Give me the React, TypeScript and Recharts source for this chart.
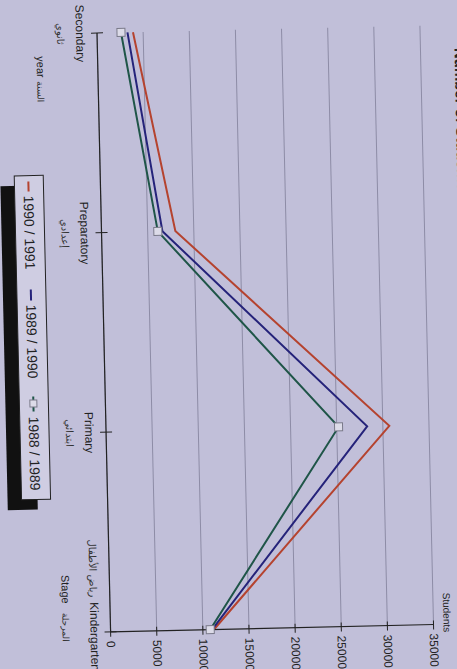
import React from 'react';
import { LineChart, Line, XAxis, YAxis, CartesianGrid } from 'recharts';

const stages = ['Secondary', 'Preparatory', 'Primary', 'Kindergarten'];
const stagesAr = ['ثانوي', 'إعدادي', 'ابتدائي', 'رياض الأطفال'];
const year1988 = [2600, 6100, 25200, 10800];
const year1989 = [3300, 6600, 28300, 11000];
const year1990 = [3900, 8000, 30700, 11200];
const valueTicks = [0, 5000, 10000, 15000, 20000, 25000, 30000, 35000];
const seriesNames = ['1990 / 1991', '1989 / 1990', '1988 / 1989'];
const seriesColors = ['#b5432f', '#25237a', '#1f5548'];

const data = stages.map((s, i) => ({
  stage: s,
  ar: stagesAr[i],
  y1990: year1990[i],
  y1989: year1989[i],
  y1988: year1988[i],
}));

const FONT = '"Liberation Sans", Arial, sans-serif';
const AR_FONT = '"DejaVu Sans", sans-serif';

const CatTick = (props: any) => {
  const { x, y, payload } = props;
  const ar = stagesAr[stages.indexOf(payload.value)];
  const last = payload.value === 'Kindergarten';
  return (
    <g>
      <line x1={x} x2={x} y1={y - 6} y2={y + 6} stroke="#222" strokeWidth={1} />
      {last ? (
        <g>
          <text x={x - 30} y={y + 20} textAnchor="start" fontSize={12} fontFamily={FONT} fill="#222">{payload.value}</text>
          <text x={x - 35} y={y + 20} textAnchor="end" fontSize={10} fontFamily={AR_FONT} fill="#333">{ar}</text>
        </g>
      ) : (
        <g>
          <text x={x} y={y + 21} textAnchor="middle" fontSize={12} fontFamily={FONT} fill="#222">{payload.value}</text>
          <text x={x} y={y + 40} textAnchor="middle" fontSize={10} fontFamily={AR_FONT} fill="#333">{ar}</text>
        </g>
      )}
    </g>
  );
};

const ValTick = (props: any) => {
  const { x, y, payload } = props;
  return (
    <g>
      <line x1={x - 4} x2={x + 5} y1={y} y2={y} stroke="#222" strokeWidth={1} />
      <text x={x + 9} y={y + 4} textAnchor="start" fontSize={12} fontFamily={FONT} fill="#222">{payload.value}</text>
    </g>
  );
};

const SquareDot = (props: any) => {
  const { cx, cy } = props;
  if (cx == null || cy == null) return null;
  return <rect x={cx - 4} y={cy - 4} width={8} height={8} fill="#dcdbe8" stroke="#7a7a8a" strokeWidth={1} />;
};

export default function App() {
  return (
    <div style={{ position: 'fixed', left: 0, top: 0, width: 457, height: 669, overflow: 'hidden', background: '#c1bfd9' }}>
      <div
        style={{
          position: 'absolute',
          left: 0,
          top: 0,
          width: 690,
          height: 460,
          transformOrigin: '0 0',
          transform: 'translate(446.16px, -7.94px) rotate(88.7deg)',
        }}
      >
        <LineChart width={690} height={460} data={data} margin={{ top: 27, right: 0, left: 33, bottom: 80 }}>
          <CartesianGrid horizontal vertical={false} stroke="#8d8ca6" strokeWidth={1} />
          <XAxis
            dataKey="stage"
            height={30}
            interval={0}
            tickSize={0}
            tickMargin={0}
            tickLine={false}
            axisLine={{ stroke: '#222', strokeWidth: 1.2 }}
            tick={<CatTick />}
          />
          <YAxis
            orientation="right"
            width={58}
            domain={[0, 35000]}
            ticks={valueTicks}
            tickSize={0}
            tickMargin={0}
            tickLine={false}
            axisLine={{ stroke: '#222', strokeWidth: 1.2 }}
            tick={<ValTick />}
          />
          <Line type="linear" dataKey="y1990" name={seriesNames[0]} stroke={seriesColors[0]} strokeWidth={2} dot={false} isAnimationActive={false} />
          <Line type="linear" dataKey="y1989" name={seriesNames[1]} stroke={seriesColors[1]} strokeWidth={2} dot={false} isAnimationActive={false} />
          <Line type="linear" dataKey="y1988" name={seriesNames[2]} stroke={seriesColors[2]} strokeWidth={2} dot={<SquareDot />} isAnimationActive={false} />
        </LineChart>
        <svg width={690} height={460} style={{ position: 'absolute', left: 0, top: 0, overflow: 'visible', pointerEvents: 'none' }}>
          <text x={56} y={-7} fontSize={15} fontWeight="bold" fontFamily={FONT} fill="#222">Number of Students</text>
          <text x={640} y={17} textAnchor="end" fontSize={10} fontFamily={FONT} fill="#222">Students</text>
          <text x={574} y={398} fontSize={11} fontFamily={FONT} fill="#222">Stage</text>
          <text x={612} y={398} fontSize={9} fontFamily={AR_FONT} fill="#333">المرحلة</text>
          <text x={55} y={411} fontSize={11} fontFamily={FONT} fill="#222">year</text>
          <text x={80} y={411} fontSize={9} fontFamily={AR_FONT} fill="#333">السنة</text>
          <rect x={184} y={420} width={324} height={30} fill="#111" />
          <rect x={174} y={407} width={324} height={29} fill="#cfcde2" stroke="#222" strokeWidth={1} />
          <line x1={180} x2={190} y1={422} y2={422} stroke={seriesColors[0]} strokeWidth={2} />
          <text x={194} y={427} fontSize={14} fontFamily={FONT} fill="#222">{seriesNames[0]}</text>
          <line x1={288} x2={299} y1={422} y2={422} stroke={seriesColors[1]} strokeWidth={2} />
          <text x={303} y={427} fontSize={14} fontFamily={FONT} fill="#222">{seriesNames[1]}</text>
          <line x1={395} x2={410} y1={422} y2={422} stroke={seriesColors[2]} strokeWidth={2} />
          <rect x={398.5} y={418.5} width={7} height={7} fill="#dcdbe8" stroke="#7a7a8a" strokeWidth={1} />
          <text x={415} y={427} fontSize={14} fontFamily={FONT} fill="#222">{seriesNames[2]}</text>
        </svg>
      </div>
    </div>
  );
}
